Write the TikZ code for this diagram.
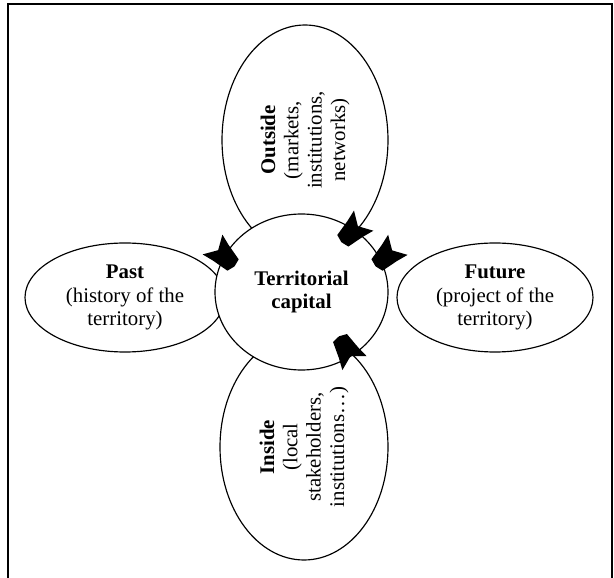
\documentclass[tikz,border=0pt]{standalone}
\usepackage{fontspec}
\setmainfont{Liberation Serif}
\usetikzlibrary{shapes.geometric}
\tikzset{
  field/.style={draw, ellipse, line width=0.7pt, inner sep=0pt, align=center, font=\fontsize{12.5}{14}\selectfont},
  hub/.style={field, fill=white, font=\fontsize{12.5}{14}\selectfont\bfseries},
  fatarrow/.pic={\fill (2,0) -- (0,8) -- (-17,11) -- (-29,14) -- (-21,0) -- (-29,-14) -- (-17,-11) -- (0,-8) -- cycle;}
}
\begin{document}
\begin{tikzpicture}[x=0.6pt, y=0.6pt]
	\useasboundingbox (0,0) rectangle (614,578);
	%Frame
	\draw[line width=1.2pt] (8,0) -- (8,574) -- (612,574) -- (612,0);
	
	%Outside-Field
	\node[field, rotate=90, minimum width=138pt, minimum height=99.6pt] (outside) at (305,438) {\textbf{Outside}\\(markets,\\institutions,\\networks)};
	%Inside-Field
	\node[field, rotate=90, minimum width=135.6pt, minimum height=100.8pt] (inside) at (304,131) {\textbf{Inside}\\(local\\stakeholders,\\institutions\ldots)};
	%Past-Field
	\node[field, minimum width=120pt, minimum height=65.4pt] (past) at (125,280.5) {\textbf{Past}\\(history of the\\territory)};
	%Future-Field
	\node[field, minimum width=117.6pt, minimum height=65.4pt] (future) at (495,280.5) {\textbf{Future}\\(project of the\\territory)};
	
	%Territorial capital
	\node[hub, minimum width=103.8pt, minimum height=93.6pt] (cap) at (301.5,286) {Territorial\\capital};
	
	%Arrows
	\path (cap.center) ++(51.1:65.8) pic[rotate=224] {fatarrow};
	\path (cap.center) ++(19.7:80.2) pic[rotate=224] {fatarrow};
	\path (cap.center) ++(158.5:73.6) pic[rotate=315] {fatarrow};
	\path (cap.center) ++(-50.1:60) pic[rotate=120] {fatarrow};
\end{tikzpicture}
\end{document}
